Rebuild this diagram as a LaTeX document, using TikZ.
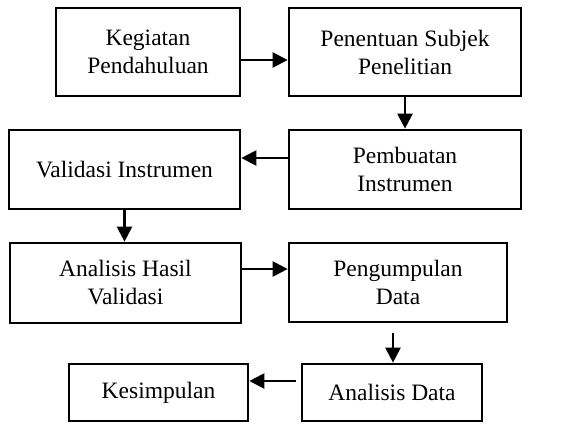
\documentclass[tikz,border=0pt]{standalone}
\usepackage{fontspec}
\setmainfont{Liberation Serif}
\usepackage{tikz}
\usetikzlibrary{arrows.meta}

\begin{document}
\begin{tikzpicture}[x=1pt,y=1pt,
  box/.style={draw,line width=2.7pt,align=center,inner sep=0pt,
    font=\fontsize{23.5}{28}\selectfont},
  flow/.style={line width=2.3pt,-{Triangle[length=15pt,width=15pt]}}]
  \useasboundingbox (0,0) rectangle (562,-423);
  \node[box,minimum width=184,minimum height=88] (S-1) at (148,-52) {Kegiatan\\Pendahuluan};
  \node[box,minimum width=232,minimum height=88] (S-2) at (405,-52) {Penentuan Subjek\\Penelitian};
  \node[box,minimum width=232,minimum height=79] (S-3) at (405,-169.5) {Pembuatan\\Instrumen};
  \node[box,minimum width=231,minimum height=79] (S-4) at (124.5,-169.5) {Validasi Instrumen};
  \node[box,minimum width=231,minimum height=80] (S-5) at (125.5,-283) {Analisis Hasil\\Validasi};
  \node[box,minimum width=218,minimum height=79] (S-6) at (398,-282.5) {Pengumpulan\\Data};
  \node[box,minimum width=180,minimum height=57] (S-7) at (392,-392.5) {Analisis Data};
  \node[box,minimum width=179,minimum height=57] (S-8) at (158.5,-392.5) {Kesimpulan};
  \draw[flow] ([yshift=-8]S-1.east) -- ([yshift=-8]S-1.east -| S-2.west);
  \draw[flow] (S-2.south) -- (S-2.south |- S-3.north);
  \draw[flow] ([yshift=11.5]S-3.west) -- ([yshift=11.5]S-3.west -| S-4.east);
  \draw[flow] (S-4.south) -- (S-4.south |- S-5.north);
  \draw[flow] ([yshift=14]S-5.east) -- ([yshift=14]S-5.east -| S-6.west);
  \draw[flow,shorten <=10pt] ([xshift=-5]S-6.south) -- ([xshift=-5]S-6.south |- S-7.north);
  \draw[flow,shorten <=5pt] ([yshift=11.5]S-7.west) -- ([yshift=11.5]S-7.west -| S-8.east);
\end{tikzpicture}
\end{document}
